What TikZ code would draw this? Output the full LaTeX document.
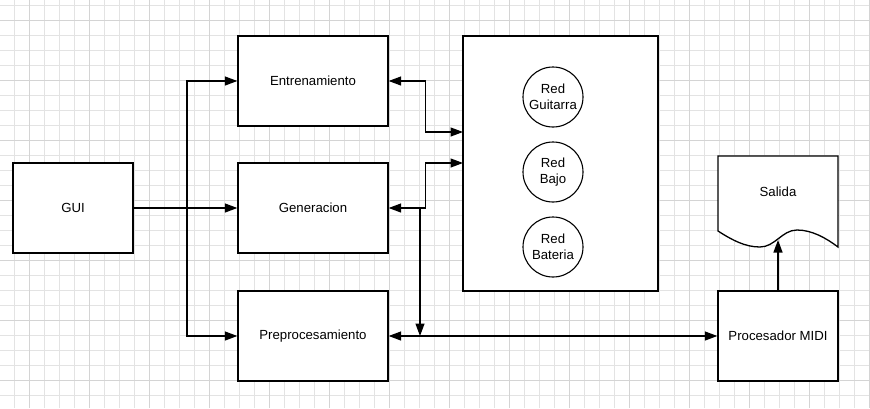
\documentclass[tikz,border=0pt]{standalone}
\usepackage{fontspec}
\setmainfont{Liberation Sans}
\usetikzlibrary{arrows.meta}

\begin{document}
\begin{tikzpicture}[x=1pt,y=-1pt,>={Triangle[length=12.5pt,width=9pt]}]
    \tikzstyle{every node}=[font=\fontsize{13.2}{15.5}\selectfont]
    \tikzstyle{box}=[draw,rectangle,line width=1.3pt,fill=white,inner sep=0pt]
    \tikzstyle{conn}=[line width=1.3pt]
    \useasboundingbox (0,0) rectangle (870,408);
    %% Background grid
    \fill[white] (0,0) rectangle (870,408);
    \foreach \x in {14.5,29.5,...,870} \draw[black!11,line width=0.8pt] (\x,0) -- (\x,408);
    \foreach \y in {5,20,...,408} \draw[black!11,line width=0.8pt] (0,\y) -- (870,\y);
    \foreach \x in {29.5,89.5,...,870} \draw[black!17,line width=0.9pt] (\x,0) -- (\x,408);
    \foreach \y in {20,80,...,408} \draw[black!17,line width=0.9pt] (0,\y) -- (870,\y);
    % GUI
    \node at (73,208) [box,minimum width=120pt,minimum height=90pt] (gui) {GUI};
    % Entrenamiento / Generacion / Preprocesamiento
    \node at (313,81) [box,minimum width=150pt,minimum height=90pt] (ent) {Entrenamiento};
    \node at (313,208) [box,minimum width=150pt,minimum height=90pt] (gen) {Generacion};
    \node at (313,336) [box,minimum width=150pt,minimum height=90pt] (pre) {Preprocesamiento};
    % Redes
    \node at (560.5,163.5) [box,minimum width=195pt,minimum height=255pt] (redes) {};
    \node at (553,97) [draw,circle,line width=1.1pt,minimum size=60pt,inner sep=0pt,align=center] (guit) {Red\\Guitarra};
    \node at (553,172) [draw,circle,line width=1.1pt,minimum size=60pt,inner sep=0pt,align=center] (bajo) {Red\\Bajo};
    \node at (553,247) [draw,circle,line width=1.1pt,minimum size=60pt,inner sep=0pt,align=center] (bat) {Red\\Bateria};
    % Procesador MIDI
    \node at (778,336) [box,minimum width=120pt,minimum height=90pt] (midi) {Procesador MIDI};
    % Salida
    \draw[line width=1.3pt,fill=white] (718,156) -- (838,156) -- (838,247)
        .. controls (826,238) and (812,230) .. (797,230)
        .. controls (782,230) and (775,247) .. (760,247)
        .. controls (745,247) and (732,240) .. (718,231) -- cycle;
    \node at (778,192) (salida) {Salida};
    \coordinate (salidabot) at (778,240);

    %% Connectors
    \coordinate (split) at (187,208);
    \coordinate (redA) at (463,132);
    \coordinate (redB) at (463,163);
    \coordinate (genjoin) at (420,208);
    \coordinate (prejoin) at (420,336);
    \draw[conn,->] (gui) -- (gen);
    \draw[conn,->] (split) |- (ent);
    \draw[conn,->] (split) |- (pre);
    \draw[conn,<->] (ent.east) -- ++(37,0) |- (redA);
    \draw[conn,<->] (gen.east) -- ++(37,0) |- (redB);
    \draw[conn,->] (genjoin) -- (prejoin);
    \draw[conn,<->] (pre) -- (midi);
    \draw[conn,->] (midi) -- (salidabot);
\end{tikzpicture}
\end{document}
